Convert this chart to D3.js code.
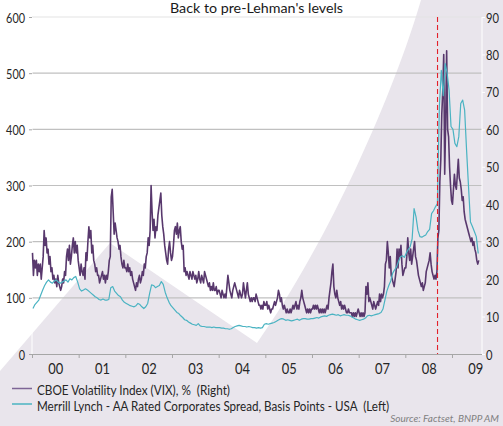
<!DOCTYPE html>
<html>
<head>
<meta charset="utf-8">
<script src="https://cdn.jsdelivr.net/npm/d3@7"></script>
<style>
  html, body { margin: 0; padding: 0; background: #ffffff; }
  svg { display: block; }
  text { font-family: Lato, "Open Sans", sans-serif; white-space: pre; }
</style>
</head>
<body>
<svg id="chart" width="503" height="426"></svg>
<script>
// ---------------- DATA ----------------
const titleText = "Back to pre-Lehman's levels";
const legendLabels = [
  "CBOE Volatility Index (VIX), %  (Right)",
  "Merrill Lynch - AA Rated Corporates Spread, Basis Points - USA  (Left)"
];
const sourceText = "Source: Factset, BNPP AM";
const yearLabels = ["00","01","02","03","04","05","06","07","08","09"];
const yearTicks = [2000,2001,2002,2003,2004,2005,2006,2007,2008,2009];
const leftTicks = [0,100,200,300,400,500,600];
const rightTicks = [0,10,20,30,40,50,60,70,80,90];
const lehmanDate = 2008.69;
const seriesStart = 2000;

// VIX (right axis), 4 readings per month from Jan 2000
const vixValues = [
  // 2000
  27,21,25,23, 25,21,24,22, 24,20,23,26, 33,29,31,27, 28,24,26,22, 23,20,21,19,
  20,18,21,19, 18,17,18,20, 19,22,21,26, 28,25,29,24, 26,29,31,27, 30,27,29,25,
  // 2001
  23,21,24,22, 21,23,20,27, 25,30,34,31, 33,27,29,25, 24,22,23,21, 21,19,20,21,
  22,20,21,19, 21,20,22,25, 26,42,44,38, 32,35,33,31, 30,28,29,26, 24,23,25,23,
  // 2002
  23,22,24,22, 23,21,22,20, 19,18,17,19, 18,20,21,19, 20,22,21,24, 23,26,27,31,
  29,33,45,38, 33,36,31,34, 33,37,39,41, 43,37,34,32, 29,27,25,24, 28,30,27,25,
  // 2003
  26,29,33,34, 32,35,31,33, 34,30,28,29, 22,23,21,22, 21,20,22,21, 20,22,21,20,
  21,19,20,22, 20,19,21,20, 19,22,21,20, 19,18,19,17, 18,17,19,17, 17,18,16,17,
  // 2004
  17,16,15,17, 16,15,16,15, 18,21,19,17, 16,15,17,18, 19,18,17,16, 15,17,16,15,
  16,19,17,15, 17,19,16,15, 14,15,14,15, 15,14,16,15, 14,13,13,12, 13,12,14,13,
  // 2005
  13,14,12,13, 12,11,12,12, 13,14,13,14, 15,17,16,14, 15,13,12,13, 12,11,12,11,
  11,12,11,12, 13,12,13,14, 12,13,12,14, 15,17,15,14, 13,12,11,12, 11,12,11,12,
  // 2006
  12,13,12,13, 12,13,12,11, 12,11,12,11, 12,11,12,13, 12,15,17,19, 22,24,18,16,
  15,17,15,14, 13,14,12,13, 12,13,12,11, 11,12,11,11, 11,10,11,10, 11,10,11,12,
  // 2007
  11,10,11,10, 11,10,11,18, 16,19,14,15, 14,13,12,14, 13,12,13,14, 13,16,14,16,
  15,16,18,24, 25,30,27,23, 26,21,20,19, 18,20,22,28, 23,28,26,29, 24,21,22,23,
  // 2008
  23,26,31,27, 25,28,24,26, 28,30,26,25, 23,21,20,19, 18,19,17,18, 19,22,23,24,
  25,27,24,22, 21,20,21,20, 22,31,33,46, 52,64,70,80, 48,62,81,60, 58,50,45,41,
  // 2009
  40,44,48,45, 44,48,52,47, 46,44,41,42, 38,36,35,34, 33,32,31,30, 31,29,30,28,
  27,25,24,25
];

// AA spread in bp (left axis), 2 readings per month from Jan 2000
const spreadValues = [
  81,88, 92,96, 105,114, 122,128, 132,128, 126,130, 132,128, 126,128, 130,132, 128,134, 132,136, 138,128,
  116,112, 114,116, 114,111, 108,105, 102,100, 97,96, 98,96, 96,97, 118,120, 112,108, 104,102, 96,92,
  90,88, 86,85, 84,86, 90,88, 84,81, 84,90, 108,123, 122,118, 120,122, 129,124, 110,100, 92,86,
  82,78, 74,72, 68,65, 61,60, 57,55, 53,52, 51,54, 50,49, 49,48, 48,48, 47,48, 47,47,
  47,46, 46,45, 45,44, 45,47, 49,50, 51,50, 49,49, 48,49, 48,47, 47,46, 47,46, 47,53,
  54,53, 54,55, 56,58, 60,62, 63,62, 60,61, 60,59, 60,61, 62,60, 62,63, 63,62, 62,63,
  63,64, 65,64, 66,67, 68,67, 69,70, 71,70, 69,70, 68,69, 70,69, 69,68, 66,64, 62,61,
  60,61, 62,64, 68,69, 68,69, 70,71, 72,74, 80,96, 112,122, 130,144, 150,155, 165,173, 175,172,
  180,186, 191,205, 259,244, 220,209, 208,210, 212,218, 222,250, 255,262, 268,440, 505,460, 517,500, 470,405,
  400,375, 369,387, 446,452, 434,363, 298,235, 227,218, 209,179
];

// ---------------- CHART ----------------
const svg = d3.select("#chart");
const W = 503, H = 426;
const plot = { left: 32, right: 482, top: 17, bottom: 354 };

const x = d3.scaleLinear().domain([2000, 2009.643]).range([plot.left, plot.right]);
const yL = d3.scaleLinear().domain([0, 600]).range([plot.bottom, plot.top]);
const yR = d3.scaleLinear().domain([0, 90]).range([plot.bottom, plot.top]);

const vixData = vixValues.map((v, i) => ({ t: seriesStart + (i + 0.5) / 48, v }));
const spreadData = spreadValues.map((v, i) => ({ t: seriesStart + (i + 0.5) / 24, v }));

// background decoration
svg.append("rect").attr("width", W).attr("height", H).attr("fill", "#e9e5ec");
svg.append("path")
  .attr("d", "M0,0 L421,0 C395,90 330,240 257,343 L110,243 L0,371 Z")
  .attr("fill", "#ffffff");

// gridlines
svg.append("g").selectAll("line").data(leftTicks.filter(d => d > 0)).join("line")
  .attr("x1", plot.left).attr("x2", plot.right)
  .attr("y1", d => yL(d)).attr("y2", d => yL(d))
  .attr("stroke", d => d === 600 ? "#e4e4e4" : "#c0c0c0")
  .attr("stroke-width", 1.2);

// vertical edge lines
svg.append("line").attr("x1", plot.left).attr("x2", plot.left).attr("y1", plot.top).attr("y2", plot.bottom)
  .attr("stroke", "#ffffff").attr("stroke-width", 1);
svg.append("line").attr("x1", plot.right).attr("x2", plot.right).attr("y1", plot.top).attr("y2", plot.bottom)
  .attr("stroke", "#ffffff").attr("stroke-width", 1);

// bottom axis (ticks at year boundaries)
const axB = svg.append("g").attr("transform", `translate(0,${plot.bottom})`)
  .call(d3.axisBottom(x).tickValues(yearTicks).tickFormat("").tickSize(4).tickSizeOuter(0));
axB.select(".domain").attr("stroke", "#a6a6a6").attr("stroke-width", 1.2);
axB.selectAll(".tick line").attr("stroke", "#a6a6a6");

// year labels centred between ticks
const axL2 = svg.append("g").attr("transform", `translate(0,${plot.bottom})`)
  .call(d3.axisBottom(x).tickValues(yearTicks.map(d => d + 0.5))
    .tickFormat((d, i) => yearLabels[i]).tickSize(0));
axL2.select(".domain").remove();
axL2.selectAll("text")
  .attr("y", 20).attr("dy", 0)
  .attr("font-size", 15).attr("fill", "#262626")
  .attr("textLength", 15).attr("lengthAdjust", "spacingAndGlyphs");

// left axis
const axLeft = svg.append("g").attr("transform", `translate(${plot.left},0)`)
  .call(d3.axisLeft(yL).tickValues(leftTicks).tickSize(3).tickPadding(4));
axLeft.select(".domain").remove();
axLeft.selectAll(".tick line").attr("stroke", "#a6a6a6");
axLeft.selectAll("text")
  .attr("font-size", 14).attr("fill", "#262626").attr("dy", "0.36em")
  .each(function() {
    const s = d3.select(this); s.attr("textLength", s.text().length * 6.3).attr("lengthAdjust", "spacingAndGlyphs");
  });

// right axis
const axRight = svg.append("g").attr("transform", `translate(${plot.right},0)`)
  .call(d3.axisRight(yR).tickValues(rightTicks).tickSize(3).tickPadding(1));
axRight.select(".domain").remove();
axRight.selectAll(".tick line").attr("stroke", "#ffffff");
axRight.selectAll("text")
  .attr("font-size", 14).attr("fill", "#262626").attr("dy", "0.36em")
  .each(function() {
    const s = d3.select(this); s.attr("textLength", s.text().length * 6.5).attr("lengthAdjust", "spacingAndGlyphs");
  });

// series lines
const lineVix = d3.line().x(d => x(d.t)).y(d => yR(d.v));
const lineSpread = d3.line().x(d => x(d.t)).y(d => yL(d.v));

svg.append("path").datum(vixData)
  .attr("d", lineVix).attr("fill", "none")
  .attr("stroke", "#58386d").attr("stroke-width", 1.6).attr("stroke-linejoin", "round");

svg.append("path").datum(spreadData)
  .attr("d", lineSpread).attr("fill", "none")
  .attr("stroke", "#4ab3c2").attr("stroke-width", 1.2).attr("stroke-linejoin", "round");

// Lehman marker
svg.append("line")
  .attr("x1", x(lehmanDate)).attr("x2", x(lehmanDate))
  .attr("y1", plot.top).attr("y2", plot.bottom)
  .attr("stroke", "#e3202a").attr("stroke-width", 1.1).attr("stroke-dasharray", "5,3");

// title
svg.append("text").attr("x", 256.5).attr("y", 12.5).attr("text-anchor", "middle")
  .attr("font-size", 14).attr("fill", "#1a1a1a")
  .attr("textLength", 173).attr("lengthAdjust", "spacingAndGlyphs")
  .text(titleText);

// legend
const legendColors = ["#7e6596", "#4ab3c2"];
const legendY = [388.5, 404];
const legendW = [193, 352];
legendLabels.forEach((lab, i) => {
  svg.append("line").attr("x1", 12).attr("x2", 32).attr("y1", legendY[i]).attr("y2", legendY[i])
    .attr("stroke", legendColors[i]).attr("stroke-width", 1.5);
  svg.append("text").attr("x", 37).attr("y", legendY[i] + 6.5)
    .attr("font-size", 14).attr("fill", "#262626")
    .attr("textLength", legendW[i]).attr("lengthAdjust", "spacingAndGlyphs")
    .text(lab);
});

// source
svg.append("text").attr("x", 499).attr("y", 422).attr("text-anchor", "end")
  .attr("font-size", 10).attr("font-style", "italic").attr("fill", "#808080")
  .text(sourceText);
</script>
</body>
</html>
